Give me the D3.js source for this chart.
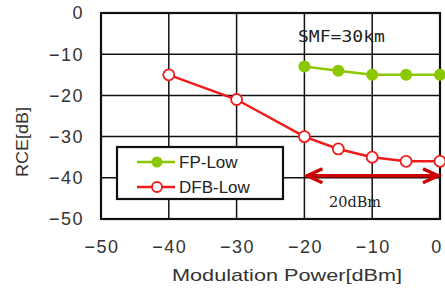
<!DOCTYPE html>
<html><head><meta charset="utf-8">
<script src="https://cdn.jsdelivr.net/npm/d3@7"></script>
<style>body{margin:0;background:#fff}svg{display:block}</style>
</head><body>
<svg id="c" width="445" height="291"></svg>
<script>
const xTicks = [-50, -40, -30, -20, -10, 0];
const yTicks = [0, -10, -20, -30, -40, -50];
const fpX = [-20, -15, -10, -5, 0];
const fpY = [-13, -14, -15, -15, -15];
const dfbX = [-40, -30, -20, -15, -10, -5, 0];
const dfbY = [-15, -21, -30, -33, -35, -36, -36];
const seriesNames = ["FP-Low", "DFB-Low"];
const arrowRange = [-20, 0];
const arrowLevel = -39.5;

const svg = d3.select("#c");
const x = d3.scaleLinear().domain([-50, 0]).range([101, 440]);
const y = d3.scaleLinear().domain([-50, 0]).range([219, 13]);
const green = "#8cc800", red = "#ee1c1c", dark = "#cc0000";
const sans = "Liberation Sans, Arial, sans-serif";

// grid
svg.append("g").selectAll("line").data(xTicks).join("line")
  .attr("x1", d => x(d)).attr("x2", d => x(d)).attr("y1", y(0)).attr("y2", y(-50))
  .attr("stroke", "#111").attr("stroke-width", 1.5);
svg.append("g").selectAll("line").data(yTicks).join("line")
  .attr("y1", d => y(d)).attr("y2", d => y(d)).attr("x1", x(-50)).attr("x2", x(0))
  .attr("stroke", "#111").attr("stroke-width", 1.5);
svg.append("rect").attr("x", x(-50)).attr("y", y(0)).attr("width", x(0) - x(-50)).attr("height", y(-50) - y(0))
  .attr("fill", "none").attr("stroke", "#111").attr("stroke-width", 2.2);

// tick labels
const fmt = d => d < 0 ? "\u2212" + Math.abs(d) : String(d);
svg.append("g").selectAll("text").data(yTicks).join("text")
  .attr("x", 84).attr("y", d => y(d)).attr("dy", "0.36em").attr("text-anchor", "end")
  .attr("font-family", sans).attr("font-size", 18).attr("fill", "#333").attr("letter-spacing", 1.5)
  .text(fmt);
svg.append("g").selectAll("text").data(xTicks).join("text")
  .attr("x", d => Math.min(x(d) + 1, 437)).attr("y", 247).attr("dy", "0.36em").attr("text-anchor", "middle")
  .attr("font-family", sans).attr("font-size", 18).attr("fill", "#333").attr("letter-spacing", 1.5)
  .text(fmt);

// axis titles
svg.append("text").attr("x", 172).attr("y", 275).attr("dy", "0.36em")
  .attr("font-family", sans).attr("font-size", 17).attr("fill", "#333")
  .attr("textLength", 230).attr("lengthAdjust", "spacingAndGlyphs")
  .text("Modulation Power[dBm]");
svg.append("text").attr("transform", "translate(22,142) rotate(-90)").attr("dy", "0.36em").attr("text-anchor", "middle")
  .attr("font-family", sans).attr("font-size", 16).attr("fill", "#333")
  .attr("textLength", 70).attr("lengthAdjust", "spacingAndGlyphs")
  .text("RCE[dB]");

// lines
const line = d3.line().x(d => x(d[0])).y(d => y(d[1]));
const fp = fpX.map((v, i) => [v, fpY[i]]);
const dfb = dfbX.map((v, i) => [v, dfbY[i]]);
svg.append("path").datum(fp).attr("d", line).attr("fill", "none").attr("stroke", green).attr("stroke-width", 2.5);
svg.append("g").selectAll("circle").data(fp).join("circle")
  .attr("cx", d => x(d[0])).attr("cy", d => y(d[1])).attr("r", 6).attr("fill", green);
svg.append("path").datum(dfb).attr("d", line).attr("fill", "none").attr("stroke", red).attr("stroke-width", 2.5);
svg.append("g").selectAll("circle").data(dfb).join("circle")
  .attr("cx", d => x(d[0])).attr("cy", d => y(d[1])).attr("r", 5.5).attr("fill", "#fff")
  .attr("stroke", red).attr("stroke-width", 1.8);

// arrow
const ax0 = x(arrowRange[0]) + 2, ax1 = x(arrowRange[1]) - 1, ay = y(arrowLevel);
svg.append("line").attr("x1", ax0).attr("x2", ax1).attr("y1", ay).attr("y2", ay)
  .attr("stroke", dark).attr("stroke-width", 3.5);
svg.append("path").attr("d", `M${ax0 + 16},${ay - 7} L${ax0 + 1},${ay} L${ax0 + 16},${ay + 7}`)
  .attr("fill", "none").attr("stroke", dark).attr("stroke-width", 3.5).attr("stroke-linejoin", "miter");
svg.append("path").attr("d", `M${ax1 - 16},${ay - 7} L${ax1 - 1},${ay} L${ax1 - 16},${ay + 7}`)
  .attr("fill", "none").attr("stroke", dark).attr("stroke-width", 3.5).attr("stroke-linejoin", "miter");

// annotations
svg.append("text").attr("x", 298).attr("y", 37).attr("dy", "0.36em")
  .attr("font-family", "DejaVu Sans Mono, monospace").attr("font-size", 15).attr("fill", "#222")
  .attr("textLength", 87).attr("lengthAdjust", "spacingAndGlyphs").text("SMF=30km");
svg.append("text").attr("x", 329).attr("y", 202).attr("dy", "0.36em")
  .attr("font-family", "DejaVu Serif, serif").attr("font-size", 14).attr("fill", "#222")
  .attr("textLength", 52).attr("lengthAdjust", "spacingAndGlyphs").text("20dBm");

// legend
const lg = svg.append("g");
lg.append("rect").attr("x", 117).attr("y", 147).attr("width", 166).attr("height", 52)
  .attr("fill", "#fff").attr("stroke", "#111").attr("stroke-width", 2.2);
const rows = [{c: green, fill: green, yy: 162}, {c: red, fill: "#fff", yy: 187}];
rows.forEach((r, i) => {
  lg.append("line").attr("x1", 137).attr("x2", 175).attr("y1", r.yy).attr("y2", r.yy)
    .attr("stroke", r.c).attr("stroke-width", 2.5);
  lg.append("circle").attr("cx", 157).attr("cy", r.yy).attr("r", i ? 5 : 5.5).attr("fill", r.fill)
    .attr("stroke", i ? r.c : "none").attr("stroke-width", 1.8);
  lg.append("text").attr("x", 179).attr("y", r.yy).attr("dy", "0.36em")
    .attr("font-family", sans).attr("font-size", 17).attr("fill", "#222")
    .text(seriesNames[i]);
});
</script>
</body></html>
